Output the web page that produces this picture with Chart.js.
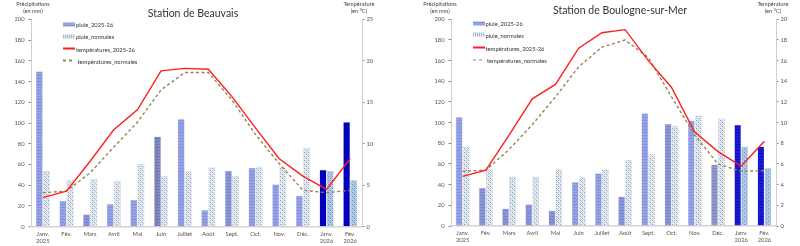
<!DOCTYPE html>
<html><head><meta charset="utf-8">
<script src="https://cdn.jsdelivr.net/npm/chart.js@4.4.1/dist/chart.umd.min.js"></script>
<style>
html,body{margin:0;padding:0;background:#fff;width:800px;height:246px;overflow:hidden;font-family:Lato,"Open Sans",sans-serif;}
.wrap{position:absolute;top:0;height:246px;}
canvas{position:absolute;top:0;left:0;}
.t{position:absolute;white-space:nowrap;color:#333;}
.title{font-size:10.5px;transform:translate(-50%,-50%);color:#333;}
.ax{font-size:5.6px;line-height:6.6px;text-align:center;transform:translateX(-50%);color:#444;}
.lg{font-size:5.8px;color:#333;transform:translateY(-50%);display:flex;align-items:center;}
.mk{display:inline-block;width:12px;height:4px;margin-right:1px;}
</style></head><body>
<div class="wrap" id="w1" style="left:0;width:400px"><canvas id="c1" width="400" height="246"></canvas></div>
<div class="wrap" id="w2" style="left:400px;width:400px"><canvas id="c2" width="400" height="246"></canvas></div>

<div class="t title" style="left:193px;top:12.5px">Station de Beauvais</div>
<div class="t title" style="left:620px;top:9.5px">Station de Boulogne-sur-Mer</div>

<div class="t ax" style="left:33px;top:1px">Précipitations<br>(en mm)</div>
<div class="t ax" style="left:359px;top:1px">Température<br>(en °C)</div>
<div class="t ax" style="left:440px;top:1px">Précipitations<br>(en mm)</div>
<div class="t ax" style="left:773px;top:1px">Température<br>(en °C)</div>

<div id="leg1"></div><div id="leg2"></div>

<script>
// ---- Data ----
const months = [['Janv.','2025'],'Fév.','Mars','Avril','Mai','Juin','Juillet','Août','Sept.','Oct.','Nov.','Déc.',['Janv.','2026'],['Fév.','2026']];

const beauvaisRain     = [150, 25, 12, 22, 26, 87, 104, 16, 54, 57, 41, 30, 55, 101];
const beauvaisRainNorm = [54, 45, 46, 44.5, 60.5, 49, 54, 57.5, 49, 58, 58, 76, 54, 45];
const beauvaisTemp     = [3.5, 4.3, 7.9, 11.7, 14.1, 18.8, 19.1, 19.0, 15.7, 11.9, 8.2, 6.1, 4.5, 8.2];
const beauvaisTempNorm = [4.1, 4.3, 6.5, 9.6, 12.6, 16.5, 18.6, 18.6, 15.3, 11.1, 7.6, 4.4, 4.1, 4.4];

const boulogneRain     = [105.5, 37, 17, 21, 15, 42.5, 51, 28.5, 109, 99, 102, 59.5, 98, 77];
const boulogneRainNorm = [77, 55.5, 48, 48, 55, 48, 55, 64, 70, 97, 107, 104, 77, 56];
const boulogneTemp     = [4.8, 5.4, 8.8, 12.3, 13.7, 17.2, 18.7, 19.0, 16.0, 13.4, 9.1, 7.2, 5.8, 8.2];
const boulogneTempNorm = [5.3, 5.4, 7.4, 9.8, 12.5, 15.4, 17.3, 18.0, 16.3, 12.5, 8.8, 6.0, 5.3, 5.35];

const seriesNames = ['pluie_2025-26','pluie_normales','températures_2025-26','températures_normales'];

// ---- Patterns ----
function stripes(base, line, vertical){
  const c=document.createElement('canvas');c.width=4;c.height=3;const x=c.getContext('2d');
  x.fillStyle=base;x.fillRect(0,0,4,3);x.fillStyle=line;x.fillRect(0,0,4,1);
  if(vertical){x.fillRect(0,0,1,3);}
  return x.createPattern(c,'repeat');
}
function dots(base, dark, light){
  const c=document.createElement('canvas');c.width=4;c.height=4;const x=c.getContext('2d');
  x.fillStyle=base;x.fillRect(0,0,4,4);
  x.fillStyle=dark;x.fillRect(0,0,1,1);x.fillRect(2,2,1,1);
  x.fillStyle=light;x.fillRect(2,0,1,1);x.fillRect(0,2,1,1);x.fillRect(1,1,1,1);x.fillRect(3,3,1,1);
  return x.createPattern(c,'repeat');
}
const pLight = stripes('#95a3e6','#8493db');
const pLight2 = stripes('#8a96d8','#7a86cc');
const pGrey = stripes('#858cc0','#737aae',true);
const pGrey2 = stripes('#9098c8','#8088b8');
const pDark = stripes('#0000c8','#0000a8');
const pDark2 = stripes('#1a1ad8','#1010b8');
const nNorm = dots('#e8eef5','#8e9cb4','#c4cfdc');
const nBlue = dots('#b4cdea','#6f8fb8','#98b6da');

const c1Rain = [pLight,pLight,pLight2,pLight,pLight,pGrey,pLight,pLight,pLight2,pLight,pLight,pLight,pDark,pDark];
const c1Norm = [nNorm,nNorm,nNorm,nNorm,nNorm,nNorm,nNorm,nNorm,nNorm,nNorm,nNorm,nNorm,nBlue,nBlue];
const c2Rain = [pLight,pLight2,pLight2,pLight2,pLight2,pLight,pLight,pLight2,pLight,pLight2,pLight,pGrey2,pDark2,pDark2];
const c2Norm = c1Norm;

const tickFont = {family:'Lato, sans-serif', size:5.8, lineHeight:1.15};

function build(canvasId, rain, rainNorm, temp, tempNorm, rainCol, normCol, opt){
  const ctx=document.getElementById(canvasId);
  return new Chart(ctx,{
    data:{
      labels: months,
      datasets:[
        {type:'line', label:seriesNames[2], data:temp, yAxisID:'y1', borderColor:'#ff1f1f', borderWidth:1.4, pointRadius:0, tension:0, order:0},
        {type:'line', label:seriesNames[3], data:tempNorm, yAxisID:'y1', borderColor:'#9a8550', borderWidth:1.4, borderDash:[3,2.5], pointRadius:0, tension:0, order:1},
        {type:'bar', label:seriesNames[0], data:rain, yAxisID:'y', backgroundColor:rainCol, borderColor:'rgba(120,130,200,0.35)', borderWidth:0.5, categoryPercentage:0.6, barPercentage:1.0, order:2},
        {type:'bar', label:seriesNames[1], data:rainNorm, yAxisID:'y', backgroundColor:normCol, borderColor:'rgba(170,185,205,0.6)', borderWidth:0.5, categoryPercentage:0.6, barPercentage:1.0, order:3}
      ]
    },
    options:{
      responsive:false, animation:false, devicePixelRatio:1,
      layout:{padding:{top:opt.top, left:0, right:0, bottom:0}},
      plugins:{legend:{display:false}, title:{display:false}, tooltip:{enabled:false}},
      scales:{
        x:{
          grid:{display:false, drawTicks:false, tickLength:0}, border:{display:true,color:'#d4d4d4',width:1.5},
          ticks:{font:tickFont,color:'#555',padding:4,maxRotation:0,autoSkip:false},
          afterFit:(s)=>{s.height=opt.xh;}
        },
        y:{
          position:'left', min:0, max:200,
          grid:{drawOnChartArea:false, drawTicks:true, tickLength:2.5, color:'#888'},
          border:{display:true,color:'#cfcfcf',width:1},
          ticks:{stepSize:20,font:tickFont,color:'#555',padding:4},
          afterFit:(s)=>{s.width=opt.lw;}
        },
        y1:{
          position:'right', min:0, max:opt.tmax,
          grid:{drawOnChartArea:false, drawTicks:true, tickLength:2.5, color:'#888'},
          border:{display:true,color:'#cfcfcf',width:1},
          ticks:{stepSize:opt.tstep,font:tickFont,color:'#555',padding:2},
          afterFit:(s)=>{s.width=opt.rw;}
        }
      }
    }
  });
}

build('c1', beauvaisRain, beauvaisRainNorm, beauvaisTemp, beauvaisTempNorm, c1Rain, c1Norm, {top:19.5, xh:19.3, lw:31, rw:38, tmax:25, tstep:5});
build('c2', boulogneRain, boulogneRainNorm, boulogneTemp, boulogneTempNorm, c2Rain, c2Norm, {top:19.3, xh:20, lw:51, rw:24, tmax:20, tstep:2});

// ---- Legends (HTML) ----
function legend(id, x, ys){
  const el=document.getElementById(id);
  const mk=[
    'background:repeating-linear-gradient(180deg,#8493db 0 1px,#95a3e6 1px 3px);',
    'background:repeating-linear-gradient(90deg,#a9b6cc 0 1px,#e4eaf2 1px 2px);',
    'height:1.5px;background:#ff1f1f;',
    'height:1.5px;background:repeating-linear-gradient(90deg,#9a8550 0 3px,transparent 3px 6px);'
  ];
  seriesNames.forEach((n,i)=>{
    const d=document.createElement('div');d.className='t lg';
    d.style.left=x+'px';d.style.top=ys[i]+'px';
    d.innerHTML='<span class="mk" style="'+mk[i]+'"></span>'+(i===3?'&nbsp;':'')+n;
    el.appendChild(d);
  });
}
legend('leg1', 63, [24, 36.3, 48.5, 60.7]);
legend('leg2', 472.5, [23.3, 34.8, 47.7, 60]);
</script>
</body></html>
